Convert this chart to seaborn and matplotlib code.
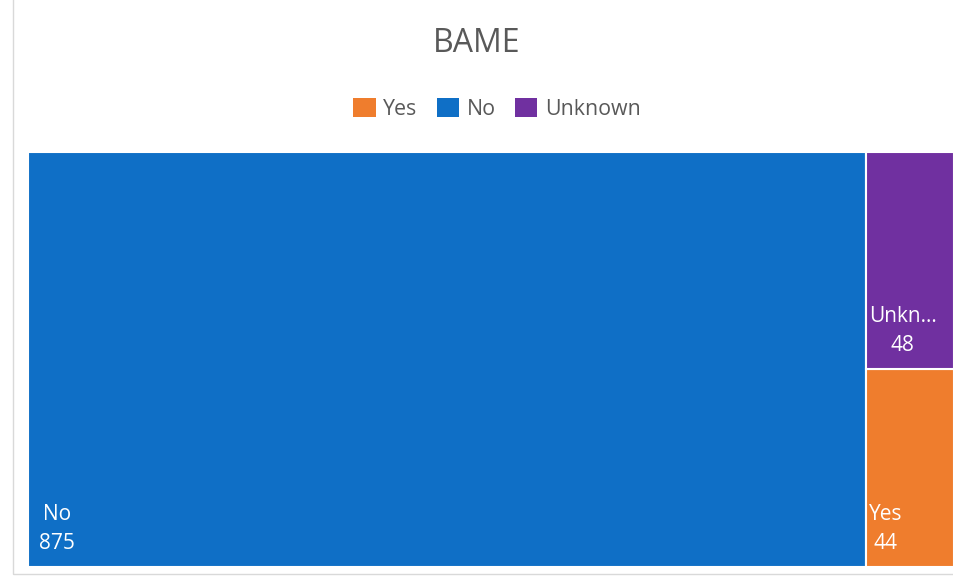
import matplotlib
matplotlib.use("Agg")
import matplotlib.pyplot as plt
from matplotlib.patches import Rectangle, Patch
import seaborn as sns

# Data
categories = ["Yes", "No", "Unknown"]
counts = [44, 875, 48]
colors = ["#EF7D2D", "#0F6FC6", "#7030A0"]
title = "BAME"

sns.set_theme(style="white")
plt.rcParams["font.family"] = ["Open Sans", "DejaVu Sans"]

W, H = 954, 577
fig = plt.figure(figsize=(W / 100, H / 100), dpi=100)
fig.patch.set_facecolor("white")

# light frame around the chart area
fig.add_artist(Rectangle((13 / W, 3 / H), 1.0, 1.0, transform=fig.transFigure,
                         fill=False, edgecolor="#D9D9D9", linewidth=1))

ax_left, ax_bottom, ax_top = 28, 567, 152
ax_w, ax_h = W - ax_left, ax_bottom - ax_top
ax = fig.add_axes([ax_left / W, (H - ax_bottom) / H, ax_w / W, ax_h / H])
ax.set_xlim(0, 1)
ax.set_ylim(0, 1)
ax.axis("off")

# simple slice layout: largest value takes a full-height column,
# the rest stack in the remaining column (first in legend order at the bottom)
total = sum(counts)
big = counts.index(max(counts))
rest = [i for i in range(len(counts)) if i != big]
big_w = counts[big] / total
tiles = {big: (0, 0, big_w, 1)}
rest_total = sum(counts[i] for i in rest)
y0 = 0
for i in rest:
    h = counts[i] / rest_total
    tiles[i] = (big_w, y0, 1 - big_w, h)
    y0 += h

for i, (x, y, w, h) in tiles.items():
    ax.add_patch(Rectangle((x, y), w, h, facecolor=colors[i], edgecolor="white", linewidth=1.5))
    name = categories[i]
    narrow = w * ax_w < 150
    if narrow and len(name) > 5:
        name = name[:4] + "..."
    pad = (3 if narrow else 11) / ax_w
    ax.text(x + pad, y + 38 / ax_h, f"{name}\n{counts[i]}", color="white", fontsize=15,
            ha="left", va="center", multialignment="center", linespacing=1.5,
            transform=ax.transAxes)

fig.text(0.5, 1 - 44 / H, title, ha="center", va="center", fontsize=23, color="#595959")

handles = [Patch(facecolor=c, edgecolor="none") for c in colors]
fig.legend(handles, categories, loc="center", bbox_to_anchor=(497 / W, 1 - 109 / H), ncol=3,
           frameon=False, fontsize=15.4, labelcolor="#595959", handlelength=1.05, handleheight=1.0,
           handletextpad=0.35, columnspacing=0.9)

fig.savefig("out.png", dpi=100)
